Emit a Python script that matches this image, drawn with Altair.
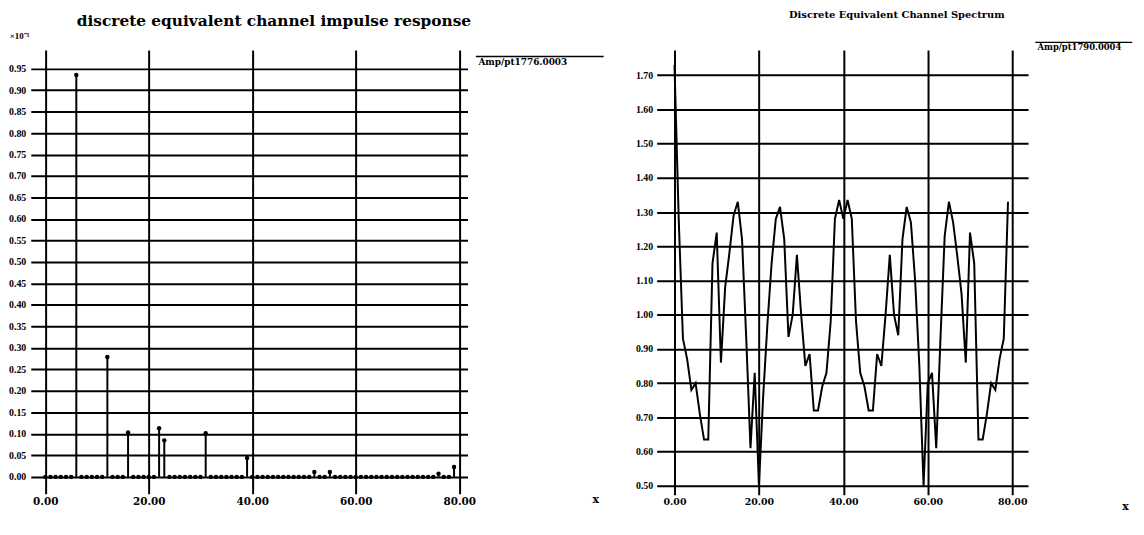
import altair as alt
import pandas as pd

FONT = "DejaVu Serif"
NARROW = "Liberation Serif"

# ---------------- data: left panel (impulse response, units of 1e-3) -------------
tap_index = list(range(80))
tap_value = [
    0, 0, 0, 0, 0, 0, 0.935, 0, 0, 0,
    0, 0, 0.279, 0, 0, 0, 0.1035, 0, 0, 0,
    0, 0, 0.113, 0.085, 0, 0, 0, 0, 0, 0,
    0, 0.1015, 0, 0, 0, 0, 0, 0, 0, 0.044,
    0, 0, 0, 0, 0, 0, 0, 0, 0, 0,
    0, 0, 0.0115, 0, 0, 0.0115, 0, 0, 0, 0,
    0, 0, 0, 0, 0, 0, 0, 0, 0, 0,
    0, 0, 0, 0, 0, 0, 0.0075, 0, 0, 0.023,
]
left_series = "Amp/pt1776.0003"
left_title = "discrete equivalent channel impulse response"
left_x_ticks = [0, 20, 40, 60, 80]
left_y_ticks = [0.00, 0.05, 0.10, 0.15, 0.20, 0.25, 0.30, 0.35, 0.40, 0.45,
                0.50, 0.55, 0.60, 0.65, 0.70, 0.75, 0.80, 0.85, 0.90, 0.95]

# ---------------- data: right panel (spectrum magnitude) --------------------------
bin_index = list(range(80))
spectrum = [
    1.73, 1.28, 0.93, 0.87, 0.78, 0.80, 0.71, 0.635, 0.635, 1.15,
    1.24, 0.86, 1.08, 1.18, 1.29, 1.33, 1.22, 0.93, 0.61, 0.83,
    0.50, 0.76, 0.97, 1.15, 1.28, 1.315, 1.22, 0.935, 1.00, 1.175,
    1.00, 0.85, 0.885, 0.72, 0.72, 0.79, 0.83, 0.98, 1.28, 1.335,
    1.28, 1.335, 1.28, 0.98, 0.83, 0.79, 0.72, 0.72, 0.885, 0.85,
    1.00, 1.175, 1.00, 0.94, 1.22, 1.315, 1.27, 1.10, 0.85, 0.50,
    0.80, 0.83, 0.61, 0.93, 1.23, 1.33, 1.27, 1.17, 1.06, 0.86,
    1.24, 1.15, 0.635, 0.635, 0.71, 0.80, 0.78, 0.87, 0.93, 1.33,
]
right_series = "Amp/pt1790.0004"
right_title = "Discrete Equivalent Channel Spectrum"
right_x_ticks = [0, 20, 40, 60, 80]
right_y_ticks = [0.50, 0.60, 0.70, 0.80, 0.90, 1.00, 1.10, 1.20, 1.30, 1.40,
                 1.50, 1.60, 1.70]

imp_df = pd.DataFrame({"n": tap_index, "h": tap_value})
imp_df["series"] = left_series
spec_df = pd.DataFrame({"k": bin_index, "mag": spectrum})
spec_df["series"] = right_series

# legend symbols: an overline drawn above the label (path units = px at size 4)
LEFT_SYMBOL = "M2,-6L131,-6"
RIGHT_SYMBOL = "M2,-5L100,-5"

# ---------------- left panel -------------------------------------------------------
lx = alt.X(
    "n:Q",
    scale=alt.Scale(domain=[-2.8, 81.6], nice=False, zero=False),
    axis=alt.Axis(values=left_x_ticks, format=".2f", title="x",
                  titleX=570, titleY=6, titleAlign="center", titleBaseline="middle",
                  labelPadding=3, labelFontSize=10.5),
)
ly = alt.Y(
    "h:Q",
    scale=alt.Scale(domain=[-0.0392, 0.9931], nice=False, zero=False),
    axis=alt.Axis(values=left_y_ticks, tickCount=40, labelOverlap=False,
                  format=".2f", title="×10⁻³",
                  titleAngle=0, titleX=-2, titleY=-12, titleAlign="right",
                  titleBaseline="alphabetic", titleFontSize=9, titleFont=NARROW,
                  labelPadding=5, labelFontSize=10, labelFont=NARROW),
)

stems = alt.Chart(imp_df).mark_rule(strokeWidth=2).encode(
    x=lx,
    y=ly,
    y2=alt.datum(0),
    color=alt.Color(
        "series:N",
        scale=alt.Scale(range=["black"]),
        legend=alt.Legend(
            title=None, orient="none", legendX=443, legendY=8,
            symbolType=LEFT_SYMBOL, symbolSize=4, symbolStrokeWidth=1.5,
            symbolStrokeColor="black", symbolFillColor="black",
            labelOffset=0, labelFont=FONT,
            labelFontSize=9, labelFontWeight="bold", labelColor="black",
        ),
    ),
)
dots = alt.Chart(imp_df).mark_circle(size=20, color="black", opacity=1).encode(
    x="n:Q", y="h:Q"
)

left = alt.layer(stems, dots).properties(
    width=441,
    height=448,
    title=alt.TitleParams(left_title, font=FONT, fontSize=15.5, fontWeight="bold",
                          color="black", anchor="middle", dx=25,
                          offset=alt.ExprRef(expr="-10"),
                          baseline="alphabetic"),
)

# ---------------- right panel ------------------------------------------------------
rx = alt.X(
    "k:Q",
    scale=alt.Scale(domain=[-4.22, 83.75], nice=False, zero=False),
    axis=alt.Axis(values=right_x_ticks, format=".2f", title="x",
                  titleX=473, titleY=12, titleAlign="center", titleBaseline="middle",
                  labelPadding=2, labelFontSize=9.5),
)
ry = alt.Y(
    "mag:Q",
    scale=alt.Scale(domain=[0.4738, 1.7735], nice=False, zero=False),
    axis=alt.Axis(values=right_y_ticks, tickCount=40, labelOverlap=False,
                  format=".2f", title=None,
                  labelPadding=4, labelFontSize=10, labelFont=NARROW),
)

right = alt.Chart(spec_df).mark_line(strokeWidth=2).encode(
    x=rx,
    y=ry,
    color=alt.Color(
        "series:N",
        scale=alt.Scale(range=["black"]),
        legend=alt.Legend(
            title=None, orient="none", legendX=376, legendY=-7,
            symbolType=RIGHT_SYMBOL, symbolSize=4, symbolStrokeWidth=1.5,
            symbolStrokeColor="black", symbolFillColor="black",
            labelOffset=0, labelFont=FONT,
            labelFontSize=8.5, labelFontWeight="bold", labelColor="black",
        ),
    ),
).properties(
    width=375,
    height=449,
    title=alt.TitleParams(right_title, font=FONT, fontSize=10, fontWeight="bold",
                          color="black", anchor="middle", dx=55,
                          offset=alt.ExprRef(expr="15"),
                          baseline="alphabetic"),
)

chart = (
    alt.hconcat(left, right, spacing=28)
    .resolve_scale(color="independent")
    .properties(padding={"left": 0, "top": 0, "right": 0, "bottom": 0})
    .configure_view(stroke=None)
    .configure_axis(
        domain=False,
        ticks=False,
        grid=True,
        gridColor="black",
        gridWidth=2,
        gridOpacity=1,
        labelFont=FONT,
        labelFontWeight="bold",
        labelColor="black",
        titleFont=FONT,
        titleFontWeight="bold",
        titleColor="black",
        titleFontSize=11,
    )
)

chart.save("out.html", embed_options={"renderer": "svg", "actions": False})
